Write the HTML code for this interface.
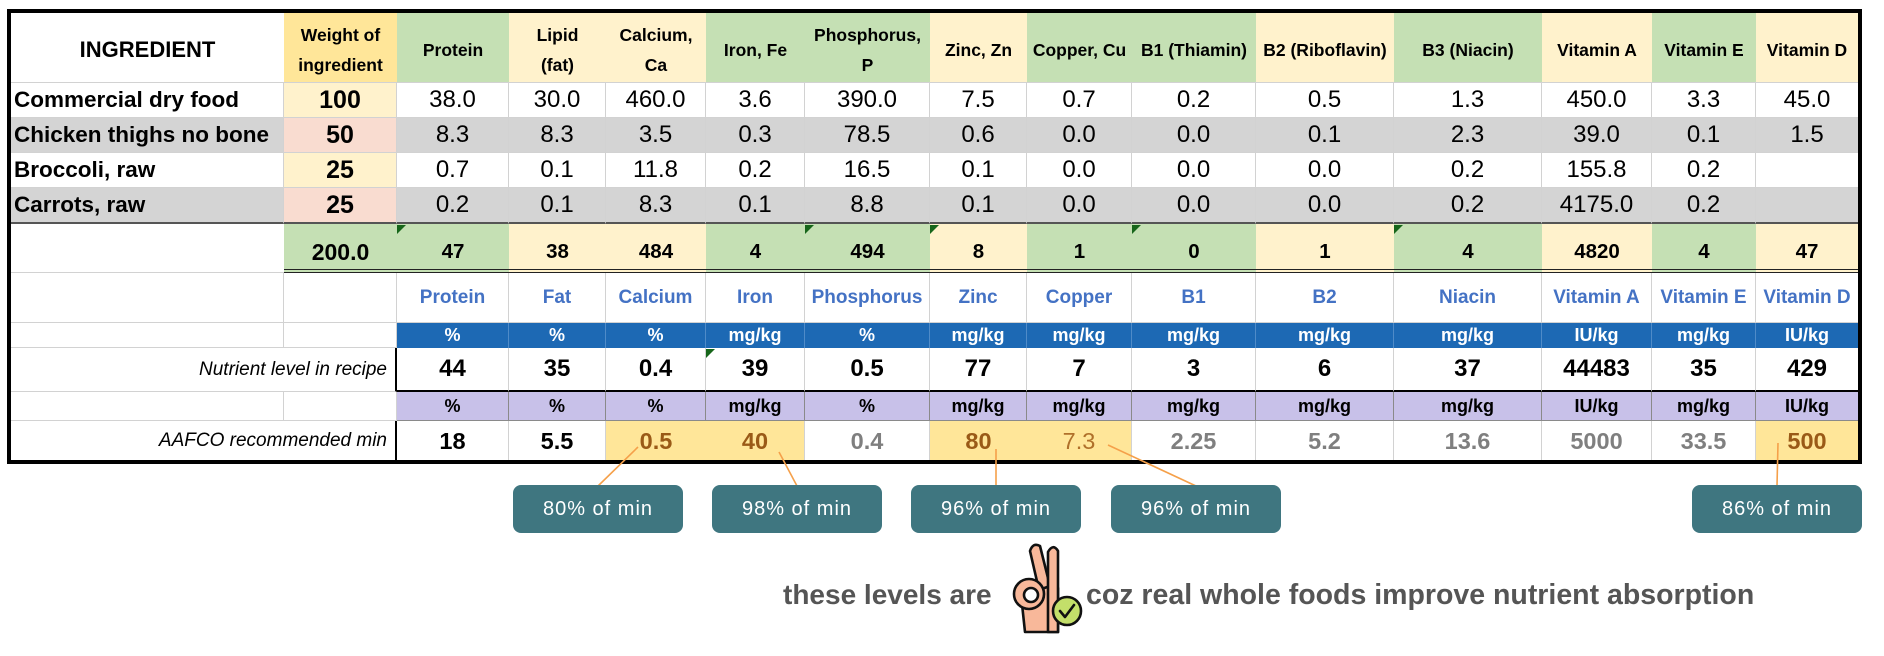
<!DOCTYPE html>
<html><head><meta charset="utf-8">
<style>
html,body{margin:0;padding:0;background:#fff;}
body{width:1884px;height:656px;position:relative;overflow:hidden;font-family:"Liberation Sans",Arial,sans-serif;color:#000;}
#grid{position:absolute;left:11px;top:13px;display:grid;
grid-template-columns:273px 113px 112px 97px 100px 99px 125px 97px 105px 124px 138px 148px 110px 104px 102px;
grid-template-rows:70px 35px 35px 35px 36px 49px 50px 25px 44px 29px 40px;}
.c{box-sizing:border-box;display:flex;align-items:center;justify-content:center;text-align:center;border-right:1px solid #d2d2d2;border-bottom:1px solid #d2d2d2;white-space:nowrap;overflow:visible;}
.h{font-weight:bold;font-size:17.5px;line-height:30px;border-right:none;padding-top:5px;}
.g{background:#C5E0B4;}
.y{background:#FFF2CC;}
.o{background:#FFE699;}
.pk{background:#F9DCD0;}
.gr{background:#D4D4D4;}
.lbl{justify-content:flex-start;padding-left:3px;font-weight:bold;font-size:22.5px;}
.d{font-size:24px;}
.w{font-weight:bold;font-size:25px;}
.r4{border-bottom:2px solid #555;}
.t{font-weight:bold;font-size:20.5px;border-bottom:4px double #222;border-right:none;padding-top:11px;}
.n{color:#4472C4;font-weight:bold;font-size:19px;}
.bl{background:#1D69B4;color:#fff;font-weight:bold;font-size:18px;border-right:1px solid #4f8bc8;border-bottom:none;}
.rc{font-weight:bold;font-size:24px;border-bottom:2px solid #000;}
.it{grid-column:span 2;justify-content:flex-end;padding-right:8px;font-style:italic;font-size:19px;border-right:2px solid #000;}
.pu{background:#C8C1E9;font-weight:bold;font-size:18px;border-right:1px solid #8a8a8a;border-bottom:1px solid #8a8a8a;}
.af{font-weight:bold;font-size:23.5px;border-bottom:none;}
.br{color:#9A5A17;}
.gy{color:#7f7f7f;}
.nr{border-right:none;}
#frame{position:absolute;left:7px;top:9px;width:1855px;height:455px;border:4px solid #000;box-sizing:border-box;}
.tri{position:absolute;width:0;height:0;border-top:9px solid #17661a;border-right:9px solid transparent;}
.b{position:absolute;top:485px;height:48px;width:170px;background:#3F7680;border-radius:8px;color:#fff;font-size:20px;letter-spacing:1px;display:flex;align-items:center;justify-content:center;white-space:nowrap;}
.bt{position:absolute;top:581px;font-size:28px;line-height:28px;font-weight:bold;color:#555;white-space:nowrap;}
</style></head><body>

<div id="grid">
<!-- header -->
<div class="c h" style="font-size:22px">INGREDIENT</div>
<div class="c h o"><span>Weight of<br>ingredient</span></div>
<div class="c h g">Protein</div>
<div class="c h y"><span>Lipid<br>(fat)</span></div>
<div class="c h y"><span>Calcium,<br>Ca</span></div>
<div class="c h g">Iron, Fe</div>
<div class="c h g"><span>Phosphorus,<br>P</span></div>
<div class="c h y">Zinc, Zn</div>
<div class="c h g">Copper, Cu</div>
<div class="c h g">B1 (Thiamin)</div>
<div class="c h y">B2 (Riboflavin)</div>
<div class="c h g">B3 (Niacin)</div>
<div class="c h y">Vitamin A</div>
<div class="c h g">Vitamin E</div>
<div class="c h y">Vitamin D</div>

<!-- row 1 -->
<div class="c lbl">Commercial dry food</div>
<div class="c w y">100</div>
<div class="c d">38.0</div><div class="c d">30.0</div><div class="c d">460.0</div><div class="c d">3.6</div><div class="c d">390.0</div><div class="c d">7.5</div><div class="c d">0.7</div><div class="c d">0.2</div><div class="c d">0.5</div><div class="c d">1.3</div><div class="c d">450.0</div><div class="c d">3.3</div><div class="c d nr">45.0</div>

<!-- row 2 -->
<div class="c lbl gr">Chicken thighs no bone</div>
<div class="c w pk">50</div>
<div class="c d gr">8.3</div><div class="c d gr">8.3</div><div class="c d gr">3.5</div><div class="c d gr">0.3</div><div class="c d gr">78.5</div><div class="c d gr">0.6</div><div class="c d gr">0.0</div><div class="c d gr">0.0</div><div class="c d gr">0.1</div><div class="c d gr">2.3</div><div class="c d gr">39.0</div><div class="c d gr">0.1</div><div class="c d gr nr">1.5</div>

<!-- row 3 -->
<div class="c lbl">Broccoli, raw</div>
<div class="c w y">25</div>
<div class="c d">0.7</div><div class="c d">0.1</div><div class="c d">11.8</div><div class="c d">0.2</div><div class="c d">16.5</div><div class="c d">0.1</div><div class="c d">0.0</div><div class="c d">0.0</div><div class="c d">0.0</div><div class="c d">0.2</div><div class="c d">155.8</div><div class="c d">0.2</div><div class="c d nr"></div>

<!-- row 4 -->
<div class="c lbl gr r4">Carrots, raw</div>
<div class="c w pk r4">25</div>
<div class="c d gr r4">0.2</div><div class="c d gr r4">0.1</div><div class="c d gr r4">8.3</div><div class="c d gr r4">0.1</div><div class="c d gr r4">8.8</div><div class="c d gr r4">0.1</div><div class="c d gr r4">0.0</div><div class="c d gr r4">0.0</div><div class="c d gr r4">0.0</div><div class="c d gr r4">0.2</div><div class="c d gr r4">4175.0</div><div class="c d gr r4">0.2</div><div class="c d gr r4 nr"></div>

<!-- totals -->
<div class="c nr"></div>
<div class="c t g" style="font-size:23px">200.0</div>
<div class="c t g">47</div>
<div class="c t y">38</div>
<div class="c t y">484</div>
<div class="c t g">4</div>
<div class="c t g">494</div>
<div class="c t y">8</div>
<div class="c t g">1</div>
<div class="c t g">0</div>
<div class="c t y">1</div>
<div class="c t g">4</div>
<div class="c t y">4820</div>
<div class="c t g">4</div>
<div class="c t y">47</div>

<!-- names -->
<div class="c"></div><div class="c"></div>
<div class="c n">Protein</div><div class="c n">Fat</div><div class="c n">Calcium</div><div class="c n">Iron</div><div class="c n">Phosphorus</div><div class="c n">Zinc</div><div class="c n">Copper</div><div class="c n">B1</div><div class="c n">B2</div><div class="c n">Niacin</div><div class="c n">Vitamin A</div><div class="c n">Vitamin E</div><div class="c n nr">Vitamin D</div>

<!-- blue units -->
<div class="c"></div><div class="c"></div>
<div class="c bl">%</div><div class="c bl">%</div><div class="c bl">%</div><div class="c bl">mg/kg</div><div class="c bl">%</div><div class="c bl">mg/kg</div><div class="c bl">mg/kg</div><div class="c bl">mg/kg</div><div class="c bl">mg/kg</div><div class="c bl">mg/kg</div><div class="c bl">IU/kg</div><div class="c bl">mg/kg</div><div class="c bl nr">IU/kg</div>

<!-- recipe -->
<div class="c it">Nutrient level in recipe</div>
<div class="c rc">44</div><div class="c rc">35</div><div class="c rc">0.4</div><div class="c rc">39</div><div class="c rc">0.5</div><div class="c rc">77</div><div class="c rc">7</div><div class="c rc">3</div><div class="c rc">6</div><div class="c rc">37</div><div class="c rc">44483</div><div class="c rc">35</div><div class="c rc nr">429</div>

<!-- purple units -->
<div class="c"></div><div class="c"></div>
<div class="c pu">%</div><div class="c pu">%</div><div class="c pu">%</div><div class="c pu">mg/kg</div><div class="c pu">%</div><div class="c pu">mg/kg</div><div class="c pu">mg/kg</div><div class="c pu">mg/kg</div><div class="c pu">mg/kg</div><div class="c pu">mg/kg</div><div class="c pu">IU/kg</div><div class="c pu">mg/kg</div><div class="c pu nr">IU/kg</div>

<!-- AAFCO -->
<div class="c it" style="border-bottom:none">AAFCO recommended min</div>
<div class="c af">18</div>
<div class="c af">5.5</div>
<div class="c af o br nr">0.5</div>
<div class="c af o br">40</div>
<div class="c af gy">0.4</div>
<div class="c af o br nr">80</div>
<div class="c af o br" style="font-weight:normal;color:#B0702A">7.3</div>
<div class="c af gy">2.25</div>
<div class="c af gy">5.2</div>
<div class="c af gy">13.6</div>
<div class="c af gy">5000</div>
<div class="c af gy">33.5</div>
<div class="c af o br nr">500</div>
</div>

<div id="frame"></div>

<!-- green error triangles -->
<div class="tri" style="left:397px;top:225px"></div>
<div class="tri" style="left:805px;top:225px"></div>
<div class="tri" style="left:930px;top:225px"></div>
<div class="tri" style="left:1132px;top:225px"></div>
<div class="tri" style="left:1394px;top:225px"></div>
<div class="tri" style="left:706px;top:349px"></div>

<!-- connector lines -->
<svg style="position:absolute;left:0;top:0" width="1884" height="656">
<g stroke="#F5A04A" stroke-width="1.6" fill="none">
<line x1="598" y1="486" x2="638" y2="447"/>
<line x1="797" y1="486" x2="779" y2="452"/>
<line x1="996" y1="486" x2="996" y2="449"/>
<line x1="1196" y1="486" x2="1108" y2="445"/>
<line x1="1777" y1="486" x2="1778" y2="443"/>
</g>
</svg>

<!-- callouts -->
<div class="b" style="left:513px">80% of min</div>
<div class="b" style="left:712px">98% of min</div>
<div class="b" style="left:911px">96% of min</div>
<div class="b" style="left:1111px">96% of min</div>
<div class="b" style="left:1692px">86% of min</div>

<!-- bottom text -->
<div class="bt" style="left:783px">these levels are</div>
<div class="bt" style="left:1086px;font-size:28.5px">coz real whole foods improve nutrient absorption</div>

<!-- OK hand icon -->
<svg style="position:absolute;left:0;top:0" width="1884" height="656">
<g stroke="#111" stroke-width="2.6" stroke-linejoin="round" stroke-linecap="round">
<path d="M1022,604 L1025,632 L1058,632 L1058,588 L1040,584 Z" fill="#F8B89A"/>
<path d="M1030,551 Q1033,542 1040,546 L1050,586 L1039,590 Z" fill="#F8B89A"/>
<path d="M1048,552 Q1053,543 1058,551 L1058,632 L1048,632 Z" fill="#F8B89A"/>
<circle cx="1029" cy="594" r="15" fill="#F8B89A"/>
<circle cx="1031" cy="595" r="7" fill="#fff"/>
<circle cx="1067" cy="611" r="14" fill="#C3DF6A"/>
<path d="M1060,611 L1065,617 L1074,605" fill="none"/>
</g>
</svg>

</body></html>
